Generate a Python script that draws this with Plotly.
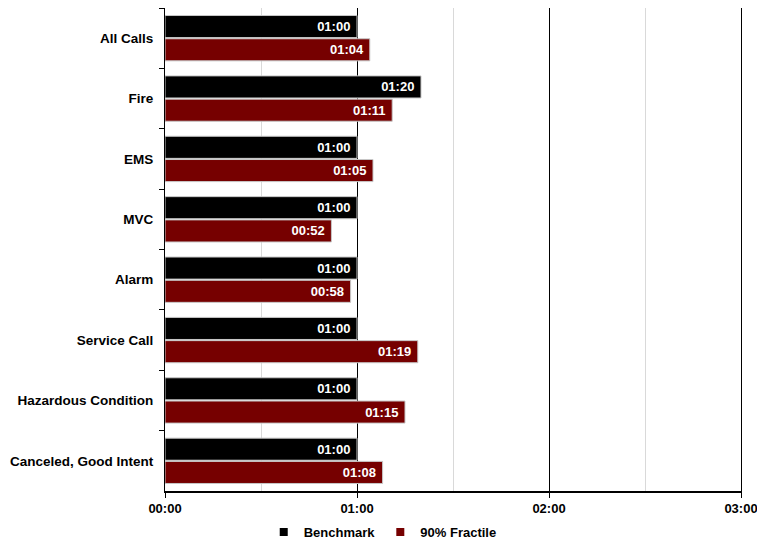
import plotly.graph_objects as go

# Call types, top to bottom
categories = [
    "All Calls", "Fire", "EMS", "MVC", "Alarm",
    "Service Call", "Hazardous Condition", "Canceled, Good Intent",
]
# Times in seconds
benchmark_sec = [60, 80, 60, 60, 60, 60, 60, 60]
fractile_sec = [64, 71, 65, 52, 58, 79, 75, 68]
tick_seconds = [0, 60, 120, 180]


def mmss(s):
    return f"{int(s) // 60:02d}:{int(s) % 60:02d}"


FONT = "Liberation Sans, Arial, sans-serif"
BLACK = "#000000"
RED = "#760000"

fig = go.Figure()

for name, vals, color in [
    ("Benchmark", benchmark_sec, BLACK),
    ("90% Fractile", fractile_sec, RED),
]:
    fig.add_trace(go.Bar(
        y=categories, x=vals, orientation="h", name=name,
        marker=dict(color=color, line=dict(color="#c8c8c8", width=1)),
        text=[mmss(v) + "\u00a0" for v in vals],
        textposition="inside", insidetextanchor="end",
        textfont=dict(family=FONT, size=13, color="white", weight="bold"),
        cliponaxis=False, showlegend=False,
    ))
    # legend swatch
    fig.add_trace(go.Scatter(
        x=[None], y=[None], mode="markers", name=name,
        marker=dict(symbol="square", size=8, color=color),
    ))

fig.update_layout(
    width=757, height=541,
    margin=dict(l=165, r=16, t=8, b=50, autoexpand=False),
    paper_bgcolor="white", plot_bgcolor="white",
    barmode="group", bargap=0.23, bargroupgap=0.05,
    font=dict(family=FONT, size=13, color="black", weight="bold"),
    legend=dict(
        orientation="h", x=0.378, xanchor="center", y=-0.085, yanchor="middle",
        font=dict(family=FONT, size=13, color="black", weight="bold"),
        itemwidth=30, tracegroupgap=0,
    ),
    xaxis=dict(
        range=[0, 180], tickvals=tick_seconds,
        ticktext=[mmss(v) for v in tick_seconds],
        showgrid=True, gridcolor=BLACK, gridwidth=1.2,
        minor=dict(dtick=30, tick0=0, showgrid=True, gridcolor="#d9d9d9", gridwidth=1),
        zeroline=False, showline=True, linecolor=BLACK, linewidth=1.5,
        ticks="outside", ticklen=5, tickcolor=BLACK, tickwidth=1.2,
        tickfont=dict(family=FONT, size=13, color="black", weight="bold"),
        ticklabeloverflow="allow", automargin=False,
    ),
    yaxis=dict(
        categoryorder="array", categoryarray=categories, autorange="reversed",
        showline=True, mirror=True, linecolor=BLACK, linewidth=1.2,
        ticks="outside", tickson="boundaries", ticklen=5, tickcolor=BLACK, tickwidth=1.2,
        ticklabelstandoff=8,
        showgrid=False, zeroline=False, automargin=False,
        tickfont=dict(family=FONT, size=13.5, color="black", weight="bold"),
    ),
)

fig.write_html("out.html")
